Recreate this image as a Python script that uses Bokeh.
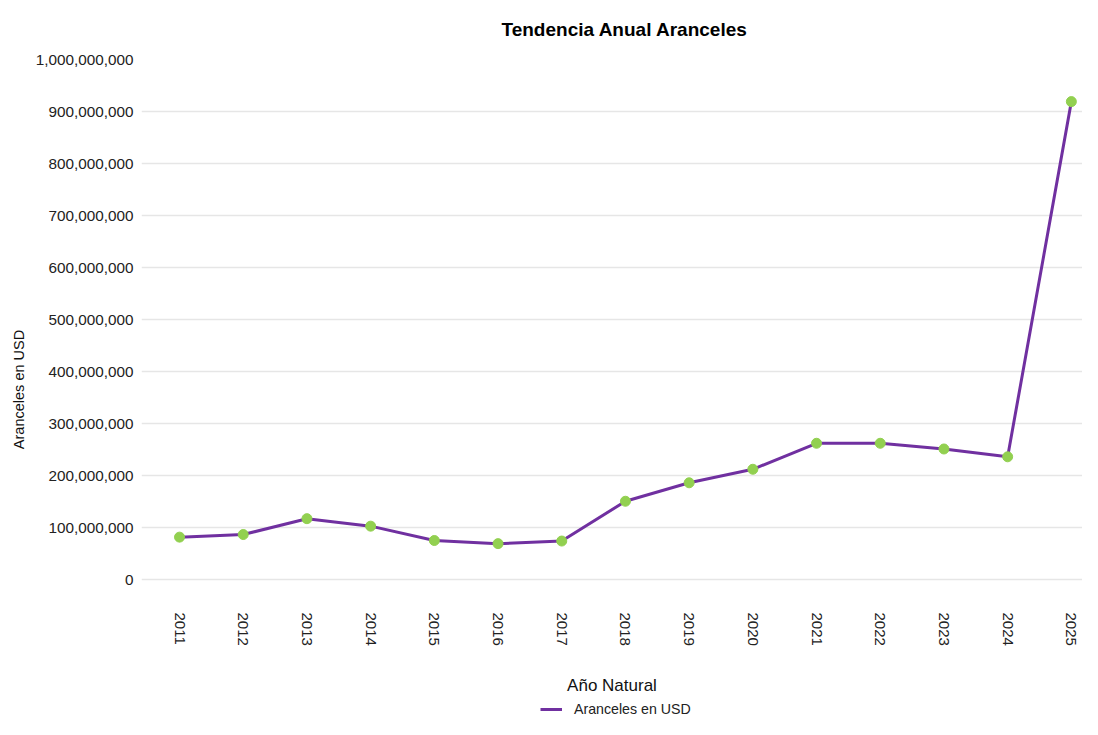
from bokeh.plotting import figure
from bokeh.models import (Range1d, FixedTicker, NumeralTickFormatter, Legend, LegendItem,
                          LinearAxis)
from bokeh.embed import file_html
from bokeh.resources import INLINE

# ---- data ----
years = [2011, 2012, 2013, 2014, 2015, 2016, 2017, 2018, 2019, 2020, 2021, 2022, 2023, 2024, 2025]
aranceles = [81.5e6, 86.5e6, 117e6, 102.6e6, 75e6, 69e6, 74e6, 150.5e6, 186e6, 212e6,
             262e6, 262e6, 251e6, 236e6, 919e6]
y_ticks = [0, 100e6, 200e6, 300e6, 400e6, 500e6, 600e6, 700e6, 800e6, 900e6, 1000e6]
series_name = "Aranceles en USD"
title_text = "Tendencia Anual Aranceles"
x_title = "Año Natural"
y_title = "Aranceles en USD"

FONT = "Liberation Sans"
W, H = 1082, 719
x_start, x_end = 2010.403, 2025.175
y_start, y_end = -269.2e6, 1e9   # frame runs down to the bottom edge; data sits in 0..1e9

p = figure(width=W, height=H, output_backend="svg", toolbar_location=None,
           x_range=Range1d(x_start, x_end), y_range=Range1d(y_start, y_end),
           x_axis_type=None, min_border_left=141, min_border_right=0,
           min_border_top=59, min_border_bottom=0)
p.outline_line_color = None
p.background_fill_color = "white"
p.border_fill_color = "white"

xaxis = LinearAxis(ticker=FixedTicker(ticks=years), fixed_location=0)
p.add_layout(xaxis, "below")
xaxis.axis_label = x_title
xaxis.axis_label_text_font = FONT
xaxis.axis_label_text_font_size = "17px"
xaxis.axis_label_text_font_style = "normal"
xaxis.axis_label_text_color = "#111111"
xaxis.axis_label_standoff = 27
xaxis.major_label_orientation = "vertical"
xaxis.major_label_text_font = FONT
xaxis.major_label_text_font_size = "15px"
xaxis.major_label_text_color = "#222222"
xaxis.major_label_standoff = 33
xaxis.axis_line_color = None
xaxis.major_tick_line_color = None
xaxis.minor_tick_line_color = None
xaxis.major_tick_out = 0
xaxis.major_tick_in = 0
xaxis.minor_tick_out = 0
xaxis.minor_tick_in = 0

yaxis = p.yaxis[0]
yaxis.ticker = FixedTicker(ticks=y_ticks)
yaxis.formatter = NumeralTickFormatter(format="0,0")
yaxis.axis_label = y_title
yaxis.axis_label_text_font = FONT
yaxis.axis_label_text_font_size = "14.5px"
yaxis.axis_label_text_font_style = "normal"
yaxis.axis_label_text_color = "#111111"
yaxis.axis_label_standoff = 6
yaxis.major_label_text_font = FONT
yaxis.major_label_text_font_size = "15.3px"
yaxis.major_label_text_color = "#222222"
yaxis.major_label_standoff = 8
yaxis.axis_line_color = None
yaxis.major_tick_line_color = None
yaxis.minor_tick_line_color = None
yaxis.major_tick_out = 0
yaxis.major_tick_in = 0
yaxis.minor_tick_out = 0
yaxis.minor_tick_in = 0

p.ygrid.grid_line_color = "#E6E6E6"
p.ygrid.grid_line_width = 1.5
p.ygrid.ticker = FixedTicker(ticks=y_ticks)

p.title.text = title_text
p.title.align = "left"
p.title.vertical_align = "top"
p.title.text_font = FONT
p.title.text_font_size = "19px"
p.title.text_font_style = "bold"
p.title.text_color = "#000000"
p.title.standoff = 35
p.title.offset = 360

line_r = p.line(years, aranceles, line_color="#7030A0", line_width=3)
p.scatter(years, aranceles, size=10, fill_color="#92D050", line_color="#92D050")

legend = Legend(items=[LegendItem(label=series_name, renderers=[line_r])],
                location=(399, 0), orientation="horizontal",
                border_line_color=None, background_fill_alpha=0,
                label_text_font=FONT, label_text_font_size="14.2px",
                label_text_color="#222222",
                glyph_width=22, glyph_height=20, label_height=20,
                label_standoff=12, padding=0, margin=0)
p.add_layout(legend, "center")

open("out.html", "w").write(file_html(p, INLINE))
